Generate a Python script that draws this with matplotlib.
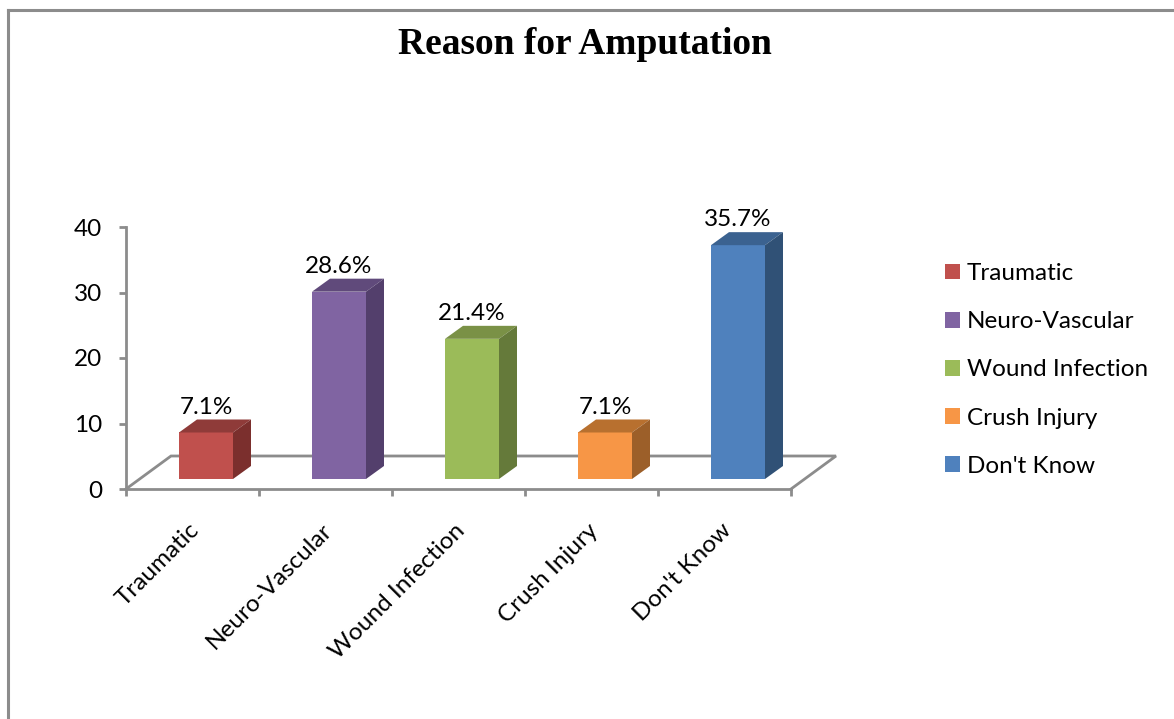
import matplotlib

matplotlib.use("Agg")
import matplotlib.lines as mlines
import matplotlib.patches as mpatches
import matplotlib.pyplot as plt
import numpy as np

W, H = 1174, 719

CATEGORIES = ["Traumatic", "Neuro-Vascular", "Wound Infection", "Crush Injury", "Don't Know"]
VALUES = [7.1, 28.6, 21.4, 7.1, 35.7]
Y_TICKS = [0, 10, 20, 30, 40]
FRONT = ["#C0504D", "#8064A2", "#9BBB59", "#F79646", "#4F81BD"]
TOP = ["#8F3B39", "#604A7B", "#7A9146", "#B8702F", "#3B6290"]
SIDE = ["#7B2F2D", "#533F6C", "#657A3A", "#9C5F29", "#305176"]

GRAY = "#8C8C8C"
FONT = "Lato"
FS = 17.5


def px_axes(fig, left, right, top, bottom):
    return fig.add_axes([left / W, 1 - bottom / H, (right - left) / W, (bottom - top) / H])


fig = plt.figure(figsize=(W / 100, H / 100), dpi=100)
ax = px_axes(fig, 126, 791, 227, 489)
ax.set_xlim(-0.5, 4.5)
ax.set_ylim(0, 40)

# depth of the fake 3d effect, in data units
per_x = 665 / 5
per_y = 262 / 40
floor_dx, floor_dy = 45 / per_x, 33 / per_y
bar_dx, bar_dy = 18 / per_x, 13 / per_y
bar_w = 54 / per_x
shift = 13.5 / per_x
lift = 10 / per_y

# floor outline behind the bars
floor_x = [-0.5, -0.5 + floor_dx, 4.5 + floor_dx, 4.5]
floor_y = [0, floor_dy, floor_dy, 0]
ax.plot(floor_x, floor_y, color=GRAY, lw=2, clip_on=False, zorder=1, solid_joinstyle="miter")

xs = np.arange(len(VALUES)) + shift
ax.bar(xs, VALUES, bar_w, bottom=lift, color=FRONT, zorder=3, clip_on=False)

for x, v, top_c, side_c in zip(xs, VALUES, TOP, SIDE):
    x0, x1 = x - bar_w / 2, x + bar_w / 2
    y0, y1 = lift, lift + v
    ax.add_patch(mpatches.Polygon(
        [(x0, y1), (x1, y1), (x1 + bar_dx, y1 + bar_dy), (x0 + bar_dx, y1 + bar_dy)],
        facecolor=top_c, edgecolor="none", zorder=3, clip_on=False))
    ax.add_patch(mpatches.Polygon(
        [(x1, y0), (x1 + bar_dx, y0 + bar_dy), (x1 + bar_dx, y1 + bar_dy), (x1, y1)],
        facecolor=side_c, edgecolor="none", zorder=3, clip_on=False))
    ax.text(x, y1 + bar_dy + 0.9, f"{v}%", ha="center", va="baseline",
            fontsize=FS, family=FONT, color="black", zorder=4)

for name in ["top", "right"]:
    ax.spines[name].set_visible(False)
for name in ["left", "bottom"]:
    ax.spines[name].set_color(GRAY)
    ax.spines[name].set_linewidth(2)

ax.set_yticks(Y_TICKS)
ax.set_yticklabels([str(t) for t in Y_TICKS], fontsize=FS, family=FONT)
ax.tick_params(axis="y", length=5, width=2, color=GRAY, pad=12)

# ticks sit on category boundaries, labels just left of the centres
ax.set_xticks(np.arange(-0.5, 5))
ax.set_xticklabels([])
ax.set_xticks(np.arange(5) - 4 / per_x, minor=True)
ax.set_xticklabels(CATEGORIES, minor=True, rotation=45, ha="right", va="top",
                   rotation_mode="anchor", fontsize=FS, family=FONT)
ax.tick_params(axis="x", which="major", length=5, width=2, color=GRAY)
ax.tick_params(axis="x", which="minor", length=0, pad=22)

fig.text(585 / W, 1 - 44 / H, "Reason for Amputation", ha="center", va="center",
         fontsize=27, fontweight="bold", family="Liberation Serif")

handles = [mpatches.Patch(facecolor=c, edgecolor="none", label=n) for c, n in zip(FRONT, CATEGORIES)]
fig.legend(handles=handles, loc="upper left", bbox_to_anchor=(945 / W, 1 - 263 / H),
           frameon=False, prop={"family": FONT, "size": FS},
           handlelength=0.62, handleheight=0.62, handletextpad=0.29, labelspacing=1.12,
           borderaxespad=0, borderpad=0)

# outer frame, open on the right and at the bottom
fig.add_artist(mlines.Line2D([8 / W, 8 / W], [0, 1 - 10 / H], color=GRAY, lw=2.2))
fig.add_artist(mlines.Line2D([8 / W, 1], [1 - 10 / H, 1 - 10 / H], color=GRAY, lw=2.2))

fig.savefig("out.png", dpi=100)
